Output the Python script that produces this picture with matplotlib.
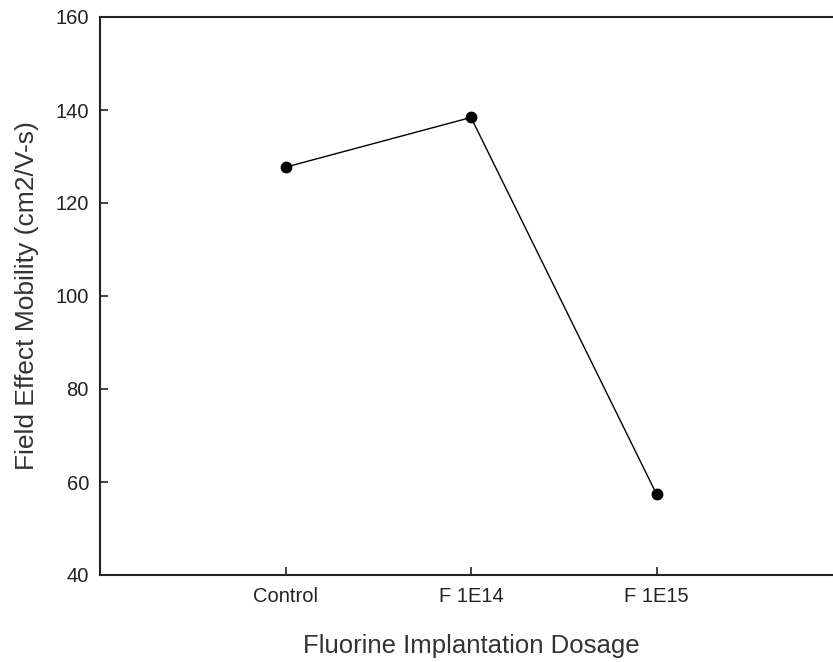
import matplotlib
matplotlib.use('Agg')
import matplotlib.pyplot as plt

categories = ['Control', 'F 1E14', 'F 1E15']
mobility = [127.7, 138.4, 57.4]
x_pos = [1, 2, 3]
y_ticks = [40, 60, 80, 100, 120, 140, 160]

plt.rcParams['font.family'] = ['Liberation Sans', 'DejaVu Sans']

fig = plt.figure(figsize=(8.33, 6.62), dpi=100)
# axes runs off the right edge of the picture, like the reference
ax = fig.add_axes([100 / 833, 87 / 662, 742 / 833, 558 / 662])

ax.plot(x_pos, mobility, color='black', lw=1, marker='o', markersize=7.5, zorder=3)

ax.set_xlim(0, 4)
ax.set_ylim(40, 160)
ax.set_xticks(x_pos)
ax.set_xticklabels(categories)
ax.set_yticks(y_ticks)

ax.tick_params(direction='in', length=6, width=1.2, labelsize=14.5, color='#222222', labelcolor='#222222')
ax.tick_params(axis='x', pad=9)
ax.tick_params(axis='y', pad=8)

for side in ['left', 'bottom', 'top']:
    ax.spines[side].set_linewidth(1.5)
    ax.spines[side].set_color('#222222')
ax.spines['right'].set_visible(False)

ax.set_xlabel('Fluorine Implantation Dosage', fontsize=18.5, color='#333333', labelpad=20)
ax.set_ylabel('Field Effect Mobility (cm2/V-s)', fontsize=19, color='#333333', labelpad=12)

fig.savefig('out.png', dpi=100)
